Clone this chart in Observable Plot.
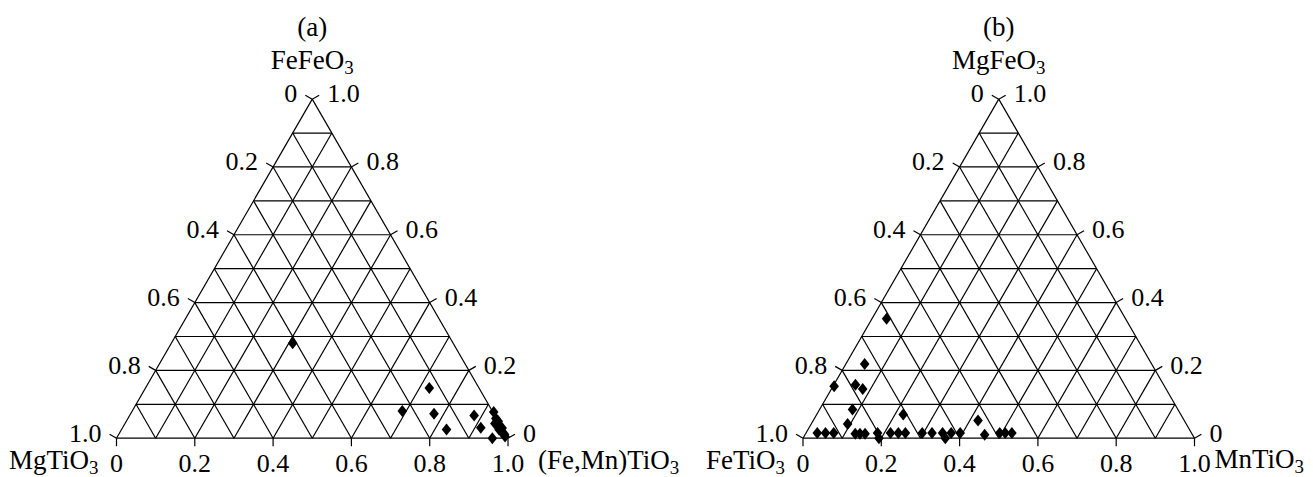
<!DOCTYPE html>
<html>
<head>
<meta charset="utf-8">
<script src="https://cdn.jsdelivr.net/npm/d3@7"></script>
<script src="https://cdn.jsdelivr.net/npm/@observablehq/plot@0.6"></script>
<style>
  html, body { margin: 0; padding: 0; background: #fff; }
  #chart { width: 1313px; height: 477px; }
</style>
</head>
<body>
<div id="chart"></div>
<script>
// ---------------- data ----------------
const panelTitles = ["(a)", "(b)"];
const topComponents = ["FeFeO3", "MgFeO3"];
const leftComponents = ["MgTiO3", "FeTiO3"];
const rightComponents = ["(Fe,Mn)TiO3", "MnTiO3"];

const tickValues = [0, 0.2, 0.4, 0.6, 0.8, 1.0];
const tickLabels = ["0", "0.2", "0.4", "0.6", "0.8", "1.0"];
const gridValues = [0, 0.1, 0.2, 0.3, 0.4, 0.5, 0.6, 0.7, 0.8, 0.9];

// panel (a): right-corner component (Fe,Mn)TiO3 and top component FeFeO3
const aRight = [0.31, 0.725, 0.69, 0.775, 0.83, 0.88, 0.915, 0.96, 0.925, 0.94, 0.945, 0.955, 0.965, 0.97, 0.975, 0.985, 0.99, 0.95];
const aTop   = [0.28, 0.148, 0.08, 0.072, 0.026, 0.067, 0.031, 0.0, 0.077, 0.058, 0.043, 0.037, 0.025, 0.03, 0.018, 0.012, 0.005, 0.05];

// panel (b): right-corner component MnTiO3 and top component MgFeO3
const bRight = [0.0375, 0.048, 0.003, 0.055, 0.080, 0.084, 0.093, 0.221, 0.421,
                0.029, 0.050, 0.071, 0.127, 0.139, 0.152, 0.183, 0.194, 0.216, 0.236, 0.254,
                0.297, 0.322, 0.349, 0.3635, 0.371, 0.394, 0.459, 0.495, 0.509, 0.526];
const bTop   = [0.352, 0.219, 0.153, 0.158, 0.145, 0.085, 0.042, 0.070, 0.052,
                0.015, 0.015, 0.015, 0.013, 0.013, 0.013, 0.015, 0.0, 0.015, 0.015, 0.015,
                0.015, 0.015, 0.015, 0.0, 0.015, 0.015, 0.01, 0.015, 0.015, 0.015];

// ---------------- geometry ----------------
const W = 1313, H = 477;
const unit = 391.5;                 // px per triangle side
const panelOffsets = [0, 686.5 / unit];
const S3 = Math.sqrt(3) / 2;
const X = (p, r, t) => panelOffsets[p] + r + t / 2;
const Y = (t) => t * S3;

// grid segments
const segs = [];
for (let p = 0; p < 2; p++) {
  for (const k of gridValues) {
    segs.push({x1: X(p, 0, k), y1: Y(k), x2: X(p, 1 - k, k), y2: Y(k)});       // constant top
    segs.push({x1: X(p, k, 0), y1: 0, x2: X(p, k, 1 - k), y2: Y(1 - k)});       // constant right
    segs.push({x1: X(p, 1 - k, 0), y1: 0, x2: X(p, 0, 1 - k), y2: Y(1 - k)});   // constant left
  }
}

// ticks and labels
const tl = 8 / unit;
const ticks = [], bottomLabels = [], leftLabels = [], rightLabels = [];
for (let p = 0; p < 2; p++) {
  tickValues.forEach((v, i) => {
    const bx = X(p, v, 0), by = 0;
    ticks.push({x1: bx, y1: by, x2: bx, y2: by - tl});
    bottomLabels.push({x: bx, y: by, label: tickLabels[i]});
    const lx = X(p, 0, 1 - v), ly = Y(1 - v);
    ticks.push({x1: lx, y1: ly, x2: lx - tl * S3, y2: ly + tl * 0.5});
    leftLabels.push({x: lx, y: ly, label: tickLabels[i]});
    const rx = X(p, 1 - v, v), ry = Y(v);
    ticks.push({x1: rx, y1: ry, x2: rx + tl * S3, y2: ry + tl * 0.5});
    rightLabels.push({x: rx, y: ry, label: tickLabels[i]});
  });
}

const points = [];
aRight.forEach((r, i) => points.push({x: X(0, r, aTop[i]), y: Y(aTop[i])}));
bRight.forEach((r, i) => points.push({x: X(1, r, bTop[i]), y: Y(bTop[i])}));

const titles = [0, 1].map(p => ({x: X(p, 0, 1), y: Y(1), title: panelTitles[p], comp: topComponents[p]}));
const leftCorner = [0, 1].map(p => ({x: X(p, 0, 0), y: 0, label: leftComponents[p]}));
const rightCorner = [0, 1].map(p => ({x: X(p, 1, 0), y: 0, label: rightComponents[p]}));

const diamond = {
  draw(ctx, size) {
    const r = Math.sqrt(size / Math.PI);
    const hh = r, hw = r * 0.8;
    ctx.moveTo(0, -hh); ctx.lineTo(hw, 0); ctx.lineTo(0, hh); ctx.lineTo(-hw, 0); ctx.closePath();
  }
};

const FS = 26;   // tick numbers
const FT = 27;   // titles and formulae
const font = "Liberation Serif, Times New Roman, serif";

const chart = Plot.plot({
  width: W, height: H,
  marginTop: 0, marginRight: 0, marginBottom: 0, marginLeft: 0,
  x: {domain: [-116 / unit, (W - 116) / unit], axis: null},
  y: {domain: [-(H - 437.7) / unit, 437.7 / unit], axis: null},
  style: {fontFamily: font, background: "#fff", color: "#000"},
  marks: [
    Plot.link(segs, {x1: "x1", y1: "y1", x2: "x2", y2: "y2", stroke: "#000", strokeWidth: 1.2}),
    Plot.link(ticks, {x1: "x1", y1: "y1", x2: "x2", y2: "y2", stroke: "#000", strokeWidth: 1.2}),
    Plot.text(bottomLabels, {x: "x", y: "y", text: "label", dy: 25, fontSize: FS, fill: "#000"}),
    Plot.text(leftLabels, {x: "x", y: "y", text: "label", dx: -15, dy: -5, textAnchor: "end", fontSize: FS, fill: "#000"}),
    Plot.text(rightLabels, {x: "x", y: "y", text: "label", dx: 15, dy: -5, textAnchor: "start", fontSize: FS, fill: "#000"}),
    Plot.text(leftCorner, {x: "x", y: "y", text: "label", dx: -18, dy: 22, textAnchor: "end", fontSize: FT, fill: "#000"}),
    Plot.text([rightCorner[0]], {x: "x", y: "y", text: "label", dx: 30, dy: 22, textAnchor: "start", fontSize: FT, fill: "#000"}),
    Plot.text([rightCorner[1]], {x: "x", y: "y", text: "label", dx: 20, dy: 21, textAnchor: "start", fontSize: FT, fill: "#000"}),
    Plot.text(titles, {x: "x", y: "y", text: "title", dy: -72, fontSize: FT, fill: "#000"}),
    Plot.text(titles, {x: "x", y: "y", text: "comp", dy: -39, fontSize: FT, fill: "#000"}),
    Plot.dot(points, {x: "x", y: "y", r: 6, symbol: diamond, fill: "#000", stroke: "none"})
  ]
});

// subscripts for chemical formulae ending with O3
d3.select(chart).selectAll("text").each(function() {
  const el = d3.select(this);
  const txt = this.textContent;
  if (/O3$/.test(txt) && this.children.length === 0) {
    el.text(txt.slice(0, -1));
    el.append("tspan").attr("dy", "0.25em").attr("font-size", "0.7em").text("3");
  }
});

document.getElementById("chart").appendChild(chart);
</script>
</body>
</html>
